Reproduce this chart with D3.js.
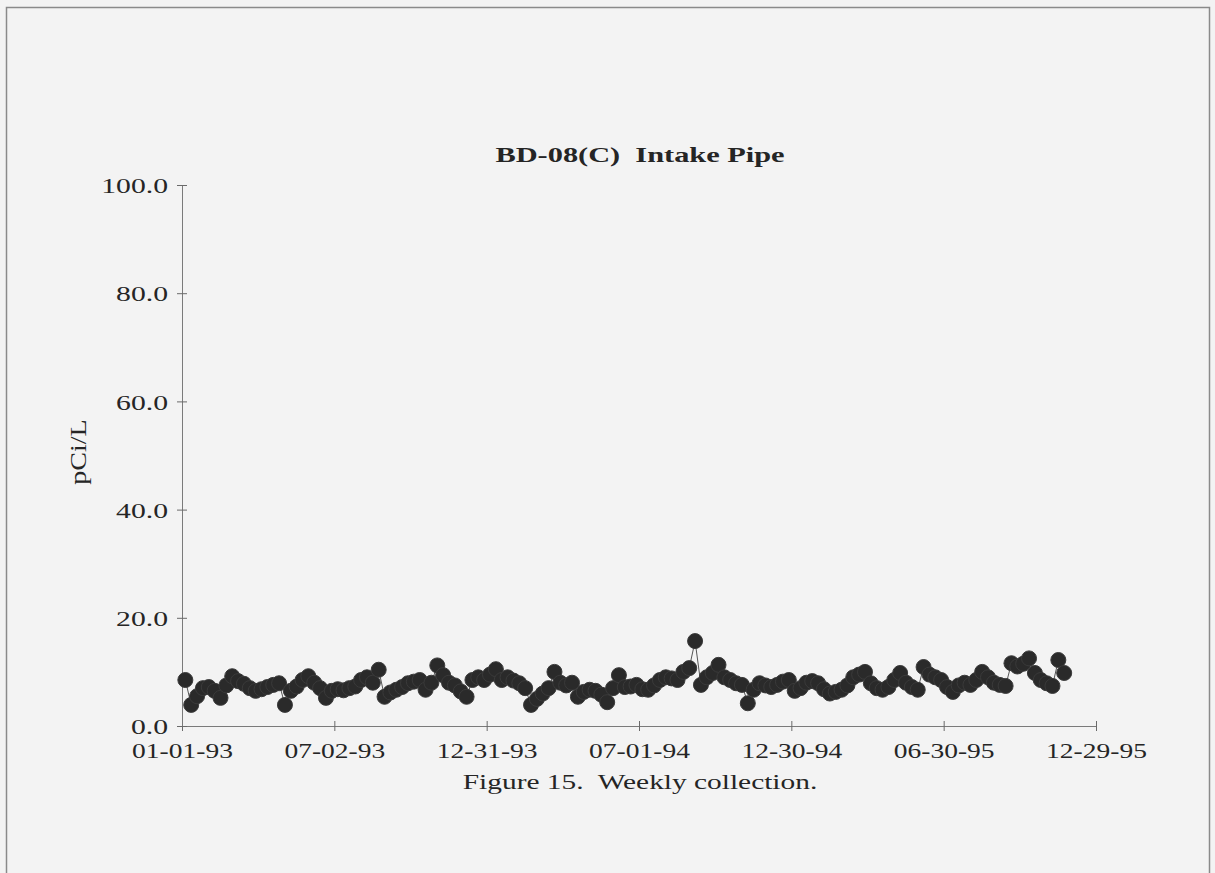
<!DOCTYPE html>
<html>
<head>
<meta charset="utf-8">
<script src="https://cdn.jsdelivr.net/npm/d3@7"></script>
<style>
  html, body { margin: 0; padding: 0; background: #f3f3f3; }
  svg { display: block; }
  text { font-family: "Liberation Serif", "DejaVu Serif", serif; fill: #252525; white-space: pre; }
</style>
</head>
<body>
<svg id="chart" width="1215" height="873"></svg>
<script>
// ---- data ----
const chartTitle = "BD-08(C)  Intake Pipe";
const yAxisLabel = "pCi/L";
const caption = "Figure 15.  Weekly collection.";
const xTickDates = ["1993-01-01", "1993-07-02", "1993-12-31", "1994-07-01", "1994-12-30", "1995-06-30", "1995-12-29"];
const yTickValues = [0, 20, 40, 60, 80, 100];
const collectionStart = "1993-01-05"; // first weekly sample
const values = [
  8.5, 3.9, 5.5, 7.0, 7.2, 6.5, 5.2, 7.5, 9.2, 8.3,
  7.8, 7.0, 6.5, 6.8, 7.2, 7.6, 7.9, 3.9, 6.5, 7.3,
  8.5, 9.2, 8.0, 7.0, 5.2, 6.5, 6.8, 6.6, 7.0, 7.3,
  8.5, 9.0, 8.0, 10.4, 5.4, 6.2, 6.7, 7.2, 7.9, 8.2,
  8.5, 6.7, 8.0, 11.2, 9.4, 8.0, 7.5, 6.4, 5.4, 8.5,
  9.0, 8.5, 9.5, 10.5, 8.5, 9.0, 8.4, 7.9, 7.0, 3.9,
  5.0, 6.0, 7.0, 10.0, 8.0, 7.5, 8.0, 5.4, 6.3, 6.7,
  6.5, 5.8, 4.4, 7.0, 9.4, 7.2, 7.3, 7.6, 6.8, 6.7,
  7.5, 8.5, 9.0, 8.8, 8.5, 10.0, 10.7, 15.7, 7.6, 9.0,
  9.8, 11.3, 9.0, 8.5, 7.9, 7.6, 4.2, 6.7, 7.9, 7.5,
  7.2, 7.6, 8.2, 8.5, 6.5, 7.0, 8.0, 8.3, 7.9, 6.8,
  6.0, 6.3, 6.7, 7.5, 9.0, 9.5, 10.0, 7.9, 7.0, 6.7,
  7.2, 8.5, 9.8, 8.0, 7.2, 6.7, 10.9, 9.5, 9.0, 8.5,
  7.2, 6.3, 7.5, 8.0, 7.6, 8.5, 10.0, 9.0, 8.0, 7.6,
  7.4, 11.6, 11.0, 11.5, 12.5, 9.8, 8.5, 7.9, 7.4, 12.2,
  9.8
];

// ---- build ----
const parse = d3.timeParse("%Y-%m-%d");
const start = parse(collectionStart);
const data = values.map((v, i) => ({ date: d3.timeWeek.offset(start, i), value: v }));
const xTicks = xTickDates.map(parse);

const svg = d3.select("#chart");
const W = 1215, H = 873;

svg.append("rect").attr("x", 0).attr("y", 0).attr("width", W).attr("height", H).attr("fill", "#f3f3f3");
// frame
svg.append("rect").attr("x", 6.5).attr("y", 7.5).attr("width", 1203).attr("height", 880)
  .attr("fill", "none").attr("stroke", "#8a8a8a").attr("stroke-width", 1.5);

const x = d3.scaleTime().domain([xTicks[0], xTicks[xTicks.length - 1]]).range([182, 1096]);
const y = d3.scaleLinear().domain([0, 100]).range([726, 185]);

// x axis
const sxX = 1.25;
const xAxis = d3.axisBottom(x).tickValues(xTicks).tickFormat(d3.timeFormat("%m-%d-%y")).tickSize(5).tickPadding(14);
const gx = svg.append("g").attr("transform", `translate(0,${y(0)})`).call(xAxis);
gx.select(".domain").attr("stroke", "#7a7a7a");
gx.selectAll(".tick line").attr("stroke", "#6a6a6a").attr("y1", -5).attr("y2", 5);
gx.selectAll(".tick text").attr("font-size", 22).attr("font-family", "Liberation Serif, serif")
  .attr("fill", "#252525").attr("transform", `scale(${sxX},1)`).attr("y", 16);

// y axis
const sxY = 1.35;
const yAxis = d3.axisLeft(y).tickValues(yTickValues).tickFormat(d3.format(".1f")).tickSize(5).tickPadding(10);
const gy = svg.append("g").attr("transform", `translate(${x.range()[0]},0)`).call(yAxis);
gy.select(".domain").attr("stroke", "#7a7a7a");
gy.selectAll(".tick line").attr("stroke", "#6a6a6a").attr("x1", -5).attr("x2", 5);
gy.selectAll(".tick text").attr("font-size", 22).attr("font-family", "Liberation Serif, serif")
  .attr("fill", "#252525").attr("transform", `scale(${sxY},1)`).attr("x", -14 / sxY).attr("dy", "0.35em");

// series line + markers
const line = d3.line().x(d => x(d.date)).y(d => y(d.value));
svg.append("path").datum(data).attr("d", line).attr("fill", "none").attr("stroke", "#555").attr("stroke-width", 1);
svg.append("g").selectAll("circle").data(data).join("circle")
  .attr("cx", d => x(d.date)).attr("cy", d => y(d.value)).attr("r", 7.5)
  .attr("fill", "#2a2a2a").attr("stroke", "#3a3a3a").attr("stroke-width", 1);

// title
svg.append("text").attr("transform", `translate(640,162) scale(1.38,1)`).attr("text-anchor", "middle")
  .attr("font-size", 22).attr("font-weight", "bold").text(chartTitle);
// y label
svg.append("text").attr("transform", `translate(86,452) rotate(-90) scale(1.22,1)`).attr("text-anchor", "middle")
  .attr("font-size", 23).text(yAxisLabel);
// caption
svg.append("text").attr("transform", `translate(640,789) scale(1.4,1)`).attr("text-anchor", "middle")
  .attr("font-size", 21).text(caption);
</script>
</body>
</html>
